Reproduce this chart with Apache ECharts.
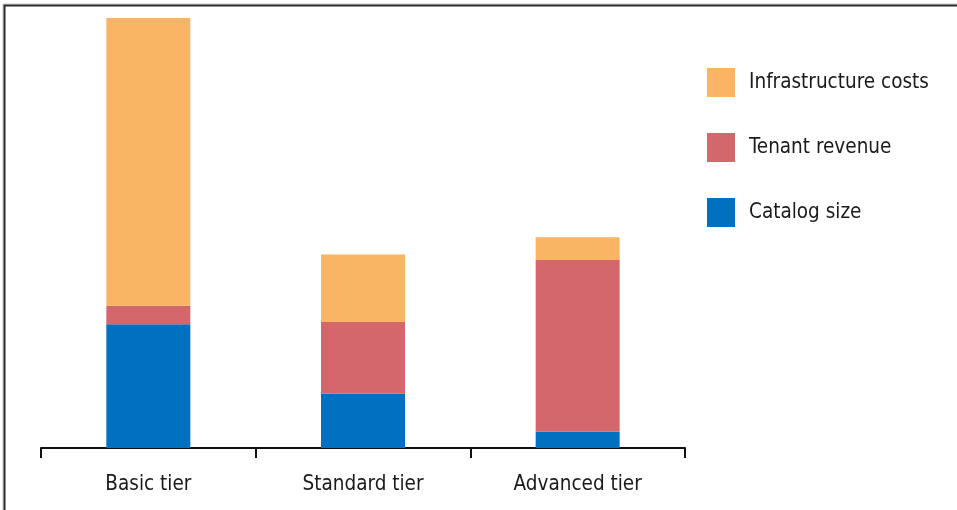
<!DOCTYPE html>
<html>
<head>
<meta charset="utf-8">
<script src="https://cdn.jsdelivr.net/npm/echarts@6/dist/echarts.min.js"></script>
<style>
  html, body { margin: 0; padding: 0; background: #fff; }
  #chart { width: 957px; height: 510px; }
</style>
</head>
<body>
<div id="chart"></div>
<script>
// Tiers along the horizontal axis
const tiers = ['Basic tier', 'Standard tier', 'Advanced tier'];

// Stacked components per tier (relative units)
const catalogSize = [28.8, 12.6, 3.8];
const tenantRevenue = [4.3, 16.7, 39.9];
const infrastructureCosts = [66.9, 15.7, 5.3];

const legendOrder = ['Infrastructure costs', 'Tenant revenue', 'Catalog size'];

const FONT = '"Liberation Sans Narrow", "DejaVu Sans Condensed", "Liberation Sans", sans-serif';
const colors = { blue: '#0070c0', red: '#d4676b', orange: '#f9b464' };

const chart = echarts.init(document.getElementById('chart'), null, { renderer: 'canvas' });

function barSeries(name, data, color) {
  return {
    name: name,
    type: 'bar',
    stack: 'tier',
    data: data,
    barWidth: 84,
    itemStyle: { color: color },
    emphasis: { disabled: true }
  };
}

chart.setOption({
  animation: false,
  backgroundColor: '#ffffff',
  grid: { left: 41, right: 272, top: 18, bottom: 62 },
  legend: {
    orient: 'vertical',
    left: 707,
    top: 68,
    padding: 0,
    itemWidth: 28,
    itemHeight: 29,
    itemGap: 36,
    icon: 'rect',
    data: legendOrder,
    textStyle: { fontFamily: FONT, fontSize: 20.5, color: '#1a1a1a', padding: [0, 0, 0, 9] }
  },
  xAxis: {
    type: 'category',
    data: tiers,
    axisLine: { lineStyle: { color: '#111', width: 2 } },
    axisTick: { show: true, length: 10, lineStyle: { color: '#111', width: 2 } },
    axisLabel: { fontFamily: FONT, fontSize: 20.5, color: '#1a1a1a', margin: 26 }
  },
  yAxis: {
    type: 'value',
    min: 0,
    max: 100,
    show: false,
    splitLine: { show: false }
  },
  series: [
    barSeries('Catalog size', catalogSize, colors.blue),
    barSeries('Tenant revenue', tenantRevenue, colors.red),
    barSeries('Infrastructure costs', infrastructureCosts, colors.orange)
  ],
  graphic: [
    {
      type: 'polyline',
      shape: { points: [[3, 510], [3, 4], [957, 4]] },
      style: { stroke: '#c8c8c8', lineWidth: 1, fill: null },
      silent: true
    },
    {
      type: 'polyline',
      shape: { points: [[4.5, 510], [4.5, 5.5], [957, 5.5]] },
      style: { stroke: '#2a2a2a', lineWidth: 2, fill: null },
      silent: true
    }
  ]
});
</script>
</body>
</html>
